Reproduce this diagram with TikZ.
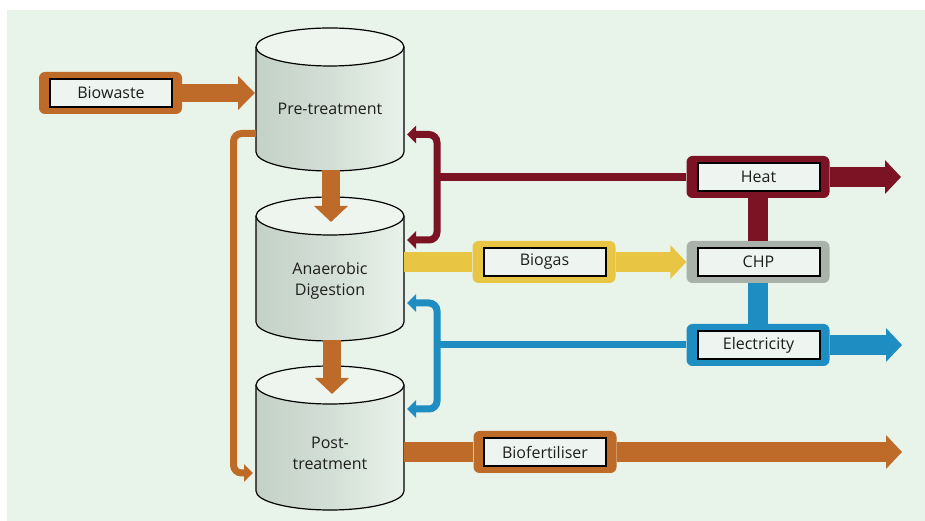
\documentclass[tikz,border=0pt]{standalone}
\usepackage{fontspec}
\setmainfont{Open Sans}
\usetikzlibrary{arrows.meta,calc}
\definecolor{bgc}{HTML}{E8F3EA}
\definecolor{orng}{HTML}{BE6A28}
\definecolor{rd}{HTML}{7B1324}
\definecolor{yel}{HTML}{E8C543}
\definecolor{blu}{HTML}{1E8EC2}
\definecolor{gry}{HTML}{A9B1AB}
\definecolor{boxin}{HTML}{EEF5F0}
\definecolor{cyltop}{HTML}{EEF5EF}
\definecolor{txt}{HTML}{1E1E1E}
\definecolor{cyla}{HTML}{D8E3DA}
\definecolor{cylb}{HTML}{A4B0A7}
\definecolor{cylc}{HTML}{C4D1C7}
\definecolor{cyld}{HTML}{D3DFD6}
\definecolor{cyle}{HTML}{E8F2EA}
\definecolor{cylf}{HTML}{F0F7F1}
\definecolor{cylg}{HTML}{B2BFB5}
\definecolor{cylh}{HTML}{C6D1C9}
\pgfdeclarehorizontalshading{cylsh}{100bp}{color(0bp)=(cyla); color(7bp)=(cylb); color(25bp)=(cylc); color(50bp)=(cyld); color(75bp)=(cyle); color(85bp)=(cylf); color(96bp)=(cylg); color(100bp)=(cylh)}
\newcommand\drawcyl[2]{%
  \shade[shading=cylsh] (256,#1) -- (256,#2) arc[start angle=180,end angle=360,x radius=74pt,y radius=19pt] -- (404,#1) -- cycle;
  \draw[cylline] (256,#1) -- (256,#2) arc[start angle=180,end angle=360,x radius=74pt,y radius=19pt] -- (404,#1);
  \draw[cylline,fill=cyltop] (330,#1) ellipse[x radius=74pt,y radius=19pt];}
\tikzset{
  cylline/.style={draw=black,line width=1.2pt},
  frame/.style={rounded corners=6pt,minimum width=143pt,minimum height=42pt,inner sep=0pt,draw=none},
  inbox/.style={draw=black,line width=2pt,fill=boxin,minimum width=122pt,minimum height=28pt,inner sep=0pt,text=txt,font=\fontsize{16}{19}\selectfont},
  cyltext/.style={text=txt,align=center,font=\fontsize{16}{21}\selectfont},
  fat/.style={line width=20pt,-{Triangle[width=33pt,length=16pt]}},
  thinarrow/.style={line width=7pt,rounded corners=8pt,-{Triangle[width=17pt,length=9pt]}},
}
\begin{document}
\begin{tikzpicture}[x=1pt,y=1pt]
\useasboundingbox (0,0) rectangle (925,521);
\fill[bgc] (7,0) rectangle (925,511);

% cylinders
\drawcyl{474}{369}
\drawcyl{305}{199}
\drawcyl{136}{30}
\node[cyltext] (pre) at (330,412) {Pre-treatment};
\node[cyltext] (ana) at (330,240) {Anaerobic\\Digestion};
\node[cyltext] (post) at (330,68) {Post-\\treatment};

% connection points on cylinders
\coordinate (preIn) at (255,428);
\coordinate (preBot) at (331,351);
\coordinate (anaTop) at (331,299);
\coordinate (anaBot) at (332,181);
\coordinate (postTop) at (332,127);
\coordinate (preLeft) at (256,387.5);
\coordinate (loopX) at (233.5,48);
\coordinate (postLeft) at (253,48);
\coordinate (anaRight) at (404,259);
\coordinate (postRight) at (404,69);
\coordinate (redJ) at (437,344);
\coordinate (redJe) at (433.5,344);
\coordinate (preRight) at (407,386.5);
\coordinate (anaRightA) at (407,281);
\coordinate (bluJ) at (437,176);
\coordinate (bluJe) at (433.5,176);
\coordinate (anaRightB) at (407,218);
\coordinate (postRightB) at (407,112);
\coordinate (heatOut) at (901,344);
\coordinate (elecOut) at (902,176);
\coordinate (biofOut) at (902,69);

% boxes
\node[frame,fill=orng] (biowf) at (110.5,428) {};
\node[inbox] (biow) at (111,428) {Biowaste};
\node[frame,fill=rd] (heatf) at (758,344) {};
\node[frame,fill=gry] (chpf) at (758,259) {};
\node[frame,fill=yel] (biogf) at (544,259) {};
\node[frame,fill=blu] (elecf) at (758,176) {};
\node[frame,fill=orng] (bioff) at (545,69) {};

% flows
\draw[orng,line width=18pt,-{Triangle[width=33pt,length=17pt]}] (biowf.east) -- (preIn);
\draw[orng,line width=18pt,-{Triangle[width=33pt,length=16pt]}] (preBot) -- (anaTop);
\draw[orng,line width=18pt,-{Triangle[width=33pt,length=16pt]}] (anaBot) -- (postTop);
\draw[orng,thinarrow] (preLeft) -| (loopX) -- (postLeft);

\draw[rd,line width=8pt] (heatf.west) -- (redJe);
\draw[rd,thinarrow] (redJ) |- (preRight);
\draw[rd,thinarrow] (redJ) |- (anaRightA);
\draw[rd,line width=20pt] (heatf.south) -- (chpf.north);
\draw[rd,fat] (heatf.east) -- (heatOut);

\draw[blu,line width=7pt] (elecf.west) -- (bluJe);
\draw[blu,thinarrow] (bluJ) |- (anaRightB);
\draw[blu,thinarrow] (bluJ) |- (postRightB);
\draw[blu,line width=20pt] (chpf.south) -- (elecf.north);
\draw[blu,fat] (elecf.east) -- (elecOut);

\draw[yel,line width=20pt] (anaRight) -- (biogf.west);
\draw[yel,fat] (biogf.east) -- (chpf.west);

\draw[orng,line width=20pt] (postRight) -- (bioff.west);
\draw[orng,fat] (bioff.east) -- (biofOut);

% labels
\node[inbox] (heat) at (758.5,344) {Heat};
\node[inbox] (chp) at (758.5,259) {CHP};
\node[inbox] (biog) at (544.5,259) {Biogas};
\node[inbox] (elec) at (758.5,175.5) {Electricity};
\node[inbox] (biof) at (545,68.5) {Biofertiliser};
\end{tikzpicture}
\end{document}
